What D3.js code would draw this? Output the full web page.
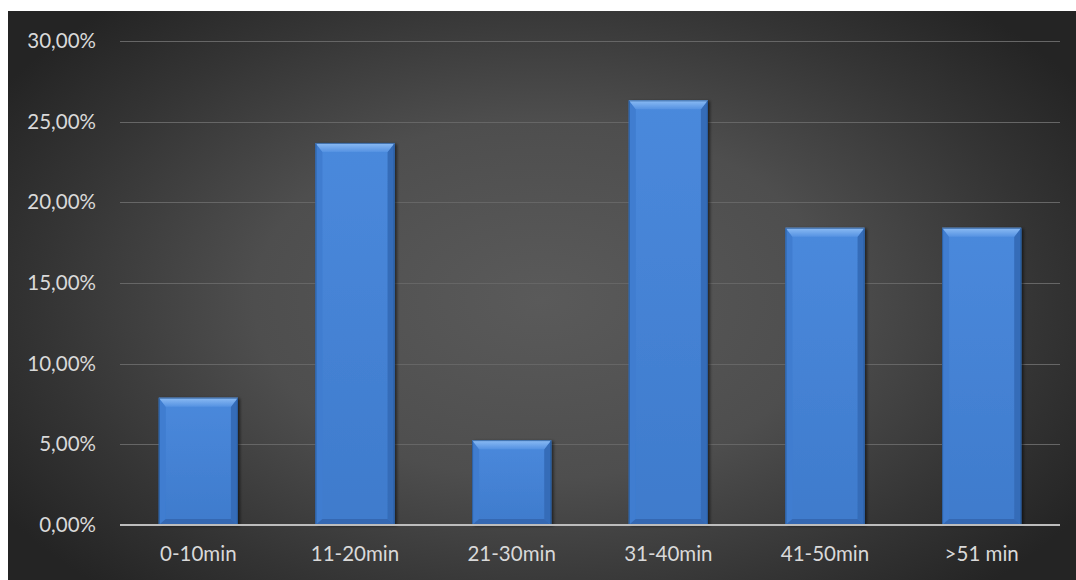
<!DOCTYPE html>
<html>
<head>
<meta charset="utf-8">
<script src="https://cdn.jsdelivr.net/npm/d3@7"></script>
<style>
  html, body { margin: 0; padding: 0; background: #ffffff; }
  svg { display: block; }
  text { font-family: Lato, "Open Sans", sans-serif; }
</style>
</head>
<body>
<svg id="chart" width="1076" height="580"></svg>
<script>
// Share of respondents per duration bracket
const categories = ["0-10min", "11-20min", "21-30min", "31-40min", "41-50min", ">51 min"];
const shares = [0.0789, 0.2368, 0.0526, 0.2632, 0.1842, 0.1842];
const yTicks = [0, 0.05, 0.10, 0.15, 0.20, 0.25, 0.30];

const svg = d3.select("#chart");
const W = 1076, H = 580;
const panel = { x: 8, y: 11, w: W - 8, h: H - 11 };
const plot = { left: 120, right: 1060, top: 41, bottom: 525 };
const labelFont = "20.5px";

const defs = svg.append("defs");

// dark vignette background
const bg = defs.append("radialGradient").attr("id", "bgGrad")
  .attr("gradientUnits", "userSpaceOnUse")
  .attr("cx", 542).attr("cy", 300).attr("r", 640)
  .attr("gradientTransform", "translate(542,300) scale(1,0.62) translate(-542,-300)");
bg.append("stop").attr("offset", "0%").attr("stop-color", "#5a5a5a");
bg.append("stop").attr("offset", "45%").attr("stop-color", "#4e4e4e");
bg.append("stop").attr("offset", "78%").attr("stop-color", "#343434");
bg.append("stop").attr("offset", "100%").attr("stop-color", "#242424");

const face = defs.append("linearGradient").attr("id", "faceGrad")
  .attr("x1", 0).attr("y1", 0).attr("x2", 0).attr("y2", 1);
face.append("stop").attr("offset", "0%").attr("stop-color", "#4a89dc");
face.append("stop").attr("offset", "100%").attr("stop-color", "#3f7bcc");

const topB = defs.append("linearGradient").attr("id", "topGrad")
  .attr("x1", 0).attr("y1", 0).attr("x2", 0).attr("y2", 1);
topB.append("stop").attr("offset", "0%").attr("stop-color", "#8cbcf4");
topB.append("stop").attr("offset", "100%").attr("stop-color", "#5592e2");

const shadow = defs.append("filter").attr("id", "barShadow")
  .attr("x", "-10%").attr("y", "-10%").attr("width", "130%").attr("height", "130%");
shadow.append("feDropShadow").attr("dx", 2).attr("dy", 1).attr("stdDeviation", 1.6)
  .attr("flood-color", "#000").attr("flood-opacity", 0.55);

svg.append("rect")
  .attr("x", panel.x).attr("y", panel.y).attr("width", panel.w).attr("height", panel.h)
  .attr("fill", "url(#bgGrad)");

const x = d3.scaleBand().domain(categories)
  .range([plot.left, plot.right]).paddingInner(0.495).paddingOuter(0.2475);
const y = d3.scaleLinear().domain([0, 0.30]).range([plot.bottom, plot.top]);

const fmt = v => d3.format(".2f")(v * 100).replace(".", ",") + "%";

// horizontal gridlines
svg.append("g").selectAll("line").data(yTicks.filter(t => t > 0)).join("line")
  .attr("x1", plot.left).attr("x2", plot.right)
  .attr("y1", d => Math.round(y(d)) + 0.5).attr("y2", d => Math.round(y(d)) + 0.5)
  .attr("stroke", "#666666").attr("stroke-width", 1);

// y axis labels
const yAxis = svg.append("g").attr("transform", `translate(${plot.left},0)`)
  .call(d3.axisLeft(y).tickValues(yTicks).tickFormat(fmt).tickSize(0).tickPadding(24));
yAxis.select(".domain").remove();
yAxis.selectAll("text").attr("fill", "#d9d9d9").style("font-size", labelFont)
  .style("font-family", "Lato, 'Open Sans', sans-serif");

// bevelled bars
const bars = svg.append("g").selectAll("g").data(categories).join("g")
  .attr("filter", "url(#barShadow)");

bars.each(function(c, i) {
  const g = d3.select(this);
  const x0 = x(c), x1 = x(c) + x.bandwidth();
  const y0 = y(shares[i]), y1 = y(0);
  const bt = 9, bs = 7, bb = 6;
  g.append("rect").attr("x", x0).attr("y", y0).attr("width", x1 - x0).attr("height", y1 - y0)
    .attr("fill", "url(#faceGrad)");
  const poly = pts => pts.map(p => p.join(",")).join(" ");
  // left side
  g.append("polygon").attr("points", poly([[x0, y0], [x0 + bs, y0 + bt], [x0 + bs, y1 - bb], [x0, y1]]))
    .attr("fill", "#3f7dd0");
  // right side
  g.append("polygon").attr("points", poly([[x1, y0], [x1 - bs, y0 + bt], [x1 - bs, y1 - bb], [x1, y1]]))
    .attr("fill", "#356cb8");
  // bottom
  g.append("polygon").attr("points", poly([[x0, y1], [x0 + bs, y1 - bb], [x1 - bs, y1 - bb], [x1, y1]]))
    .attr("fill", "#3468b2");
  // top
  g.append("polygon").attr("points", poly([[x0, y0], [x1, y0], [x1 - bs, y0 + bt], [x0 + bs, y0 + bt]]))
    .attr("fill", "url(#topGrad)");
  // outline
  g.append("rect").attr("x", x0 + 0.5).attr("y", y0 + 0.5).attr("width", x1 - x0 - 1).attr("height", y1 - y0 - 1)
    .attr("fill", "none").attr("stroke", "#24528f").attr("stroke-opacity", 0.7).attr("stroke-width", 1);
});

// baseline
svg.append("line")
  .attr("x1", plot.left).attr("x2", plot.right)
  .attr("y1", y(0)).attr("y2", y(0))
  .attr("stroke", "#bdbdbd").attr("stroke-width", 2);

// category labels
const xAxis = svg.append("g").attr("transform", `translate(0,${plot.bottom})`)
  .call(d3.axisBottom(x).tickSize(0).tickPadding(21));
xAxis.select(".domain").remove();
xAxis.selectAll("text").attr("fill", "#d9d9d9").style("font-size", labelFont)
  .style("font-family", "Lato, 'Open Sans', sans-serif");
</script>
</body>
</html>
